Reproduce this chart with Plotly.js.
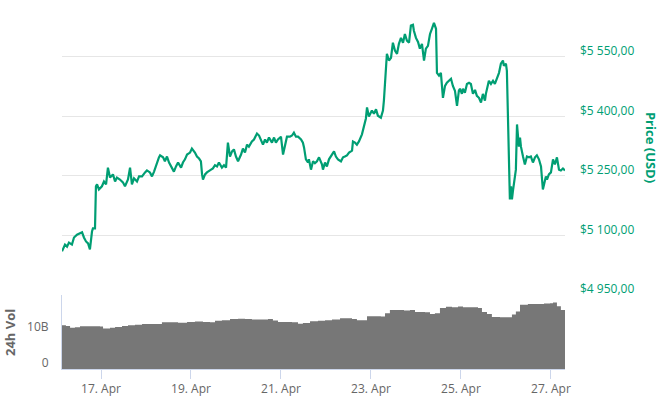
<!DOCTYPE html>
<html>
<head>
<meta charset="utf-8">
<script src="https://cdn.plot.ly/plotly-3.0.1.min.js"></script>
<style>html,body{margin:0;padding:0;background:#fff;}#chart{width:660px;height:397px;}</style>
</head>
<body>
<div id="chart"></div>
<script>
// Hours since 2019-04-16 00:00 (UTC) and BTC price (USD)
const priceHours = [3.2,3.7,4.8,5.9,6.9,8.5,9.6,11.2,12.3,13.9,14.9,16.0,17.1,18.1,19.2,19.7,20.8,21.3,21.9,22.9,24.5,25.6,26.7,27.7,28.8,30.4,31.5,32.5,34.1,35.7,36.8,38.4,39.5,40.5,41.6,43.2,44.3,45.9,47.5,48.5,50.1,51.2,52.3,53.9,54.9,
55.5,57.1,58.1,59.2,60.3,61.9,62.9,64.0,65.1,66.7,67.7,68.8,69.9,71.5,72.5,74.1,75.2,76.3,77.3,77.9,78.4,79.5,80.5,82.1,83.7,84.8,85.9,86.9,88.5,89.6,90.7,91.7,92.8,93.9,94.9,96.0,97.1,98.7,99.7,100.8,101.9,102.9,104.5,105.6,107.2,108.3,
108.8,110.4,111.5,112.5,113.6,115.2,116.3,117.3,118.4,120.0,121.1,122.1,123.2,124.8,125.9,126.9,128.0,129.1,130.7,131.7,132.3,133.3,134.4,134.9,136.0,137.1,138.1,139.2,140.3,141.9,142.4,143.5,144.5,145.6,147.2,148.3,149.3,150.4,152.0,153.1,154.1,155.2,156.3,157.9,158.4,159.5,160.5,161.6,163.2,
165.3,165.9,166.9,168.5,169.6,170.7,171.7,173.3,174.4,174.9,175.5,176.5,177.6,178.7,179.7,180.8,181.9,182.9,184.0,185.1,186.1,187.2,188.3,189.3,190.4,190.9,192.0,193.1,194.1,195.2,196.3,197.3,198.4,199.5,200.5,201.6,202.7,203.2,204.3,205.3,206.4,207.5,208.5,209.6,210.7,211.7,212.8,213.9,214.9,
215.5,216.5,217.1,218.1,219.2,220.3,221.3,222.4,223.5,224.5,225.6,226.7,227.7,228.8,229.3,229.9,230.9,232.0,233.1,234.1,235.2,236.3,237.3,238.4,238.9,240.0,240.5,241.1,241.6,242.1,242.7,243.2,243.7,244.8,245.3,245.9,246.9,247.5,248.0,249.1,250.1,251.2,252.3,253.3,254.4,255.5,256.5,257.6,258.7,259.7,260.8,261.3,261.9,262.9,264.0,265.1,266.1,267.2,268.3,269.3,270.4,271.5];

const priceUSD = [5060,5065,5077,5072,5082,5077,5095,5102,5105,5108,5095,5085,5080,5065,5110,5118,5118,5224,5229,5216,5224,5236,5229,5271,5246,5254,5236,5246,5241,5234,5224,5241,5271,5229,5244,5236,5249,5249,5259,5264,5259,5249,5261,5287,5297,
5302,5297,5287,5299,5284,5271,5261,5274,5284,5271,5284,5292,5304,5309,5319,5309,5299,5294,5287,5254,5241,5254,5259,5264,5269,5277,5274,5284,5271,5277,5271,5334,5299,5312,5317,5299,5287,5304,5319,5309,5329,5324,5337,5342,5357,5352,
5347,5329,5342,5334,5347,5334,5347,5334,5342,5349,5304,5324,5349,5349,5352,5359,5349,5349,5342,5334,5322,5292,5284,5292,5266,5287,5282,5287,5297,5279,5266,5284,5274,5292,5304,5312,5299,5292,5287,5297,5299,5302,5309,5314,5337,5334,5329,5337,5355,
5395,5423,5400,5415,5407,5418,5402,5397,5415,5440,5498,5558,5541,5548,5586,5566,5558,5583,5598,5586,5608,5591,5586,5629,5631,5616,5598,5588,5571,5583,5541,5571,5578,5608,5621,5636,5621,5510,5503,5510,5447,5477,5485,5490,5495,5477,5465,5427,5465,
5470,5457,5470,5460,5482,5485,5482,5457,5467,5452,5447,5435,5457,5440,5457,5472,5490,5482,5490,5482,5495,5510,5533,5541,5528,5533,5515,5397,5233,5191,5224,5191,5211,5249,5266,5380,5324,5347,5324,5299,5279,5299,5297,5299,5284,5297,5302,5292,5274,5216,5241,5249,5241,5254,5259,5292,5279,5297,5266,5264,5269,5264];

// 24h volume (billions USD)
const volHours = [3.2,5.3,7.5,10.1,12.8,18.1,23.5,25.1,28.8,31.5,35.2,38.4,42.1,45.9,50.1,53.9,56.5,60.8,65.1,69.9,74.1,78.4,82.1,84.8,88.5,92.8,97.1,100.8,104.5,108.8,113.1,115.7,118.4,122.1,125.9,129.1,131.7,135.5,139.7,143.5,147.2,151.5,155.2,157.9,160.5,163.7,165.9,170.1,173.3,175.5,178.1,181.9,185.6,188.8,191.5,194.1,196.8,199.5,202.1,204.8,208.0,211.2,214.4,217.1,220.8,225.1,227.2,229.9,232.5,236.8,241.1,243.2,245.3,247.5,251.7,256.0,260.3,263.5,265.1,267.2,269.3,271.5];
const volBillions = [12.2,12.0,11.5,11.6,11.9,11.9,11.8,11.3,11.5,11.7,12.0,12.2,12.3,12.5,12.5,12.5,13.0,13.0,12.9,13.1,13.2,13.1,13.0,13.4,13.6,13.9,14.0,13.9,13.8,13.8,13.9,13.5,13.1,13.1,13.0,12.6,12.8,13.3,13.4,13.6,13.8,14.1,14.1,13.9,13.6,13.6,14.7,14.7,14.6,15.5,16.4,16.4,16.3,16.4,15.9,15.9,15.8,15.3,15.5,17.0,17.3,17.2,17.4,17.2,17.2,17.0,15.9,15.3,14.5,14.4,14.4,15.2,16.0,17.9,18.1,18.1,18.2,18.3,18.5,17.5,16.4,15.0];

const startMs = Date.UTC(2019, 3, 16);
function toDate(h) {
  const d = new Date(startMs + h * 3600000);
  return d.toISOString().slice(0, 19).replace('T', ' ');
}

const green = '#009e73';
const font = 'Open Sans, sans-serif';

const traces = [
  {
    x: volHours.map(toDate), y: volBillions.map(v => v * 1e9),
    type: 'scatter', mode: 'lines', line: {shape: 'hv', width: 0, color: '#777777'},
    fill: 'tozeroy', fillcolor: '#777777', xaxis: 'x', yaxis: 'y', hoverinfo: 'skip'
  },
  {
    x: priceHours.map(toDate), y: priceUSD,
    type: 'scatter', mode: 'lines', line: {color: green, width: 2.2},
    xaxis: 'x', yaxis: 'y2', hoverinfo: 'skip'
  }
];

const volTop = 0.2033;
const layout = {
  width: 660, height: 397,
  margin: {l: 62, r: 95, t: 5, b: 28},
  paper_bgcolor: '#fff', plot_bgcolor: 'rgba(0,0,0,0)',
  showlegend: false,
  separators: ', ',
  font: {family: font, size: 12, color: '#666'},
  xaxis: {
    type: 'date', anchor: 'y',
    range: [toDate(3.2), toDate(271.5)],
    tick0: '2019-04-17', dtick: 2 * 86400000, tickformat: '%-d. %b',
    showgrid: false, showline: true, linecolor: '#ccd6eb', linewidth: 1,
    ticks: 'outside', ticklen: 9, tickcolor: '#ccd6eb', tickwidth: 1,
    tickfont: {family: font, size: 12, color: '#666'}, zeroline: false
  },
  yaxis: {
    domain: [0, volTop], range: [0, 20.6e9],
    tickvals: [0, 10e9], ticktext: ['0', '10B'],
    showgrid: false, zeroline: false,
    showline: true, linecolor: '#ccd6eb', linewidth: 1,
    ticks: '', ticklabelshift: -6, ticklabelstandoff: 10,
    tickfont: {family: font, size: 12, color: '#666'}
  },
  yaxis2: {
    domain: [volTop, 1], range: [4950, 5681], side: 'right', anchor: 'x',
    tickvals: [4950, 5100, 5250, 5400, 5550], tickformat: '$,.2f',
    showgrid: true, gridcolor: '#e6e6e6', gridwidth: 1, zeroline: false,
    showline: false, ticks: '', ticklabelshift: -6, ticklabelstandoff: 14,
    tickfont: {family: font, size: 12, color: green}
  },
  annotations: [
    {text: '<b>Price (USD)</b>', xref: 'paper', yref: 'paper', x: 1.171, y: 0.61,
     textangle: 90, showarrow: false, xanchor: 'center', yanchor: 'middle',
     font: {family: font, size: 13, color: green}},
    {text: '<b>24h Vol</b>', xref: 'paper', yref: 'paper', x: -0.1034, y: 0.1016,
     textangle: -90, showarrow: false, xanchor: 'center', yanchor: 'middle',
     font: {family: font, size: 13, color: '#666'}}
  ]
};

Plotly.newPlot('chart', traces, layout, {staticPlot: true, displayModeBar: false});
</script>
</body>
</html>
